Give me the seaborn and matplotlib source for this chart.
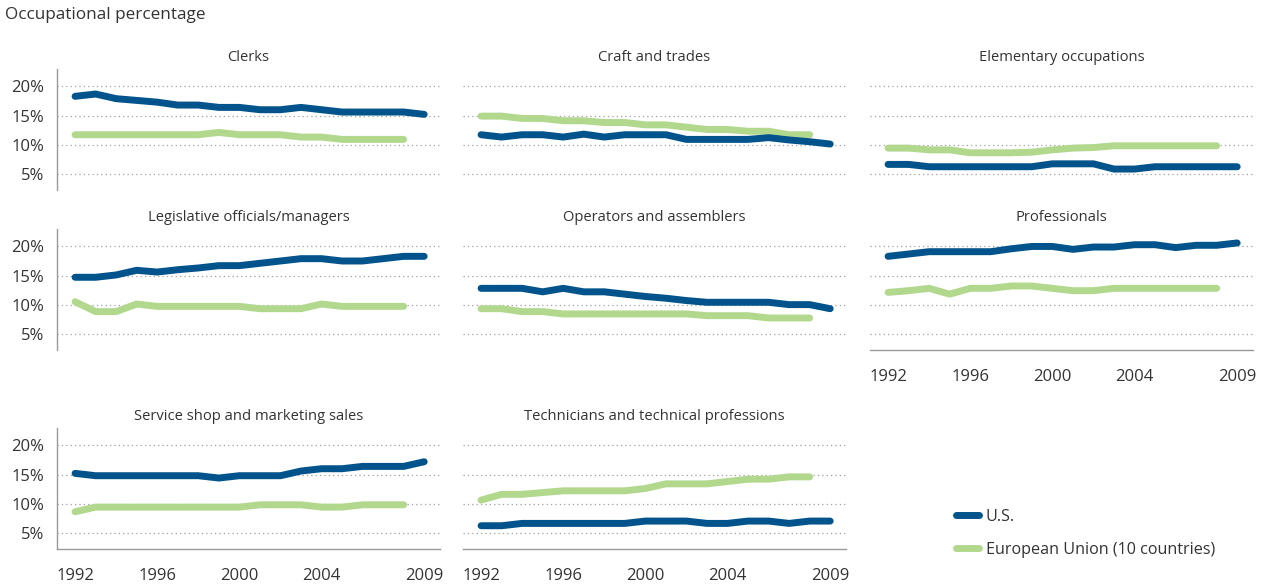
import pandas as pd
import seaborn as sns
import matplotlib.pyplot as plt
from matplotlib.lines import Line2D

# ---- data (percent of employment) ----
years = list(range(1992, 2010))
eu_years = years[:17]          # EU series stops in 2008

titles = ["Clerks", "Craft and trades", "Elementary occupations",
          "Legislative officials/managers", "Operators and assemblers", "Professionals",
          "Service shop and marketing sales", "Technicians and technical professions"]

us_clerks = [18.3, 18.7, 17.9, 17.6, 17.3, 16.8, 16.8, 16.4, 16.4, 16.0, 16.0, 16.4, 16.0, 15.6, 15.6, 15.6, 15.6, 15.2]
eu_clerks = [11.7, 11.7, 11.7, 11.7, 11.7, 11.7, 11.7, 12.1, 11.7, 11.7, 11.7, 11.3, 11.3, 10.9, 10.9, 10.9, 10.9]

us_craft = [11.7, 11.3, 11.7, 11.7, 11.3, 11.8, 11.3, 11.7, 11.7, 11.7, 10.9, 10.9, 10.9, 10.9, 11.2, 10.8, 10.5, 10.1]
eu_craft = [14.9, 14.9, 14.5, 14.5, 14.1, 14.1, 13.8, 13.8, 13.4, 13.4, 13.0, 12.6, 12.6, 12.3, 12.3, 11.7, 11.7]

us_elem = [6.6, 6.6, 6.2, 6.2, 6.2, 6.2, 6.2, 6.2, 6.7, 6.7, 6.7, 5.8, 5.8, 6.2, 6.2, 6.2, 6.2, 6.2]
eu_elem = [9.4, 9.4, 9.1, 9.1, 8.6, 8.6, 8.6, 8.7, 9.1, 9.4, 9.5, 9.8, 9.8, 9.8, 9.8, 9.8, 9.8]

us_legis = [14.7, 14.7, 15.1, 15.9, 15.6, 16.0, 16.3, 16.7, 16.7, 17.1, 17.5, 17.9, 17.9, 17.5, 17.5, 17.9, 18.3, 18.3]
eu_legis = [10.5, 8.8, 8.8, 10.1, 9.7, 9.7, 9.7, 9.7, 9.7, 9.3, 9.3, 9.3, 10.1, 9.7, 9.7, 9.7, 9.7]

us_oper = [12.8, 12.8, 12.8, 12.2, 12.8, 12.2, 12.2, 11.8, 11.4, 11.1, 10.7, 10.4, 10.4, 10.4, 10.4, 10.0, 10.0, 9.3]
eu_oper = [9.3, 9.3, 8.8, 8.8, 8.4, 8.4, 8.4, 8.4, 8.4, 8.4, 8.4, 8.1, 8.1, 8.1, 7.7, 7.7, 7.7]

us_prof = [18.3, 18.7, 19.1, 19.1, 19.1, 19.1, 19.6, 20.0, 20.0, 19.5, 19.9, 19.9, 20.3, 20.3, 19.8, 20.2, 20.2, 20.6]
eu_prof = [12.1, 12.4, 12.8, 11.8, 12.8, 12.8, 13.2, 13.2, 12.8, 12.4, 12.4, 12.8, 12.8, 12.8, 12.8, 12.8, 12.8]

us_serv = [15.2, 14.8, 14.8, 14.8, 14.8, 14.8, 14.8, 14.4, 14.8, 14.8, 14.8, 15.6, 16.0, 16.0, 16.4, 16.4, 16.4, 17.2]
eu_serv = [8.6, 9.4, 9.4, 9.4, 9.4, 9.4, 9.4, 9.4, 9.4, 9.8, 9.8, 9.8, 9.4, 9.4, 9.8, 9.8, 9.8]

us_tech = [6.2, 6.2, 6.6, 6.6, 6.6, 6.6, 6.6, 6.6, 7.0, 7.0, 7.0, 6.6, 6.6, 7.0, 7.0, 6.6, 7.0, 7.0]
eu_tech = [10.6, 11.6, 11.6, 11.9, 12.2, 12.2, 12.2, 12.2, 12.6, 13.4, 13.4, 13.4, 13.8, 14.2, 14.2, 14.6, 14.6]

us_all = [us_clerks, us_craft, us_elem, us_legis, us_oper, us_prof, us_serv, us_tech]
eu_all = [eu_clerks, eu_craft, eu_elem, eu_legis, eu_oper, eu_prof, eu_serv, eu_tech]

series_names = ["U.S.", "European Union (10 countries)"]
yticks = [5, 10, 15, 20]
ytick_labels = ["5%", "10%", "15%", "20%"]
xticks = [1992, 1996, 2000, 2004, 2009]

blue = "#00538b"
green = "#b2d88e"
txt = "#333333"
grey = "#9a9a9a"

sns.set_style("white")
plt.rcParams['font.family'] = ['Open Sans', 'DejaVu Sans']
plt.rcParams['text.color'] = txt

W, H = 1267, 588
fig = plt.figure(figsize=(W / 100, H / 100), dpi=100)

col_left = [57, 463, 870]
row_top = [69, 229, 428]
ax_w, ax_h = 383, 121

for i, title in enumerate(titles):
    r, c = divmod(i, 3)
    ax = fig.add_axes([col_left[c] / W, 1 - (row_top[r] + ax_h) / H, ax_w / W, ax_h / H])
    df = pd.DataFrame({
        "Year": years + eu_years,
        "Share": us_all[i] + eu_all[i],
        "Region": [series_names[0]] * len(years) + [series_names[1]] * len(eu_years),
    })
    sns.lineplot(data=df, x="Year", y="Share", hue="Region",
                 palette={series_names[0]: blue, series_names[1]: green},
                 hue_order=series_names[::-1], linewidth=5,
                 solid_capstyle="round", legend=False, ax=ax)
    ax.set_xlim(1991.12, 2009.77)
    ax.set_ylim(2.2, 23.0)
    ax.set_xlabel("")
    ax.set_ylabel("")
    ax.set_title(title, fontsize=10.6, color=txt, pad=6)
    for y in yticks:
        ax.axhline(y, color="#a0a0a0", linewidth=0.9, linestyle=(0, (1, 2.5)), zorder=0)

    for s in ["top", "right"]:
        ax.spines[s].set_visible(False)
    for s in ["left", "bottom"]:
        ax.spines[s].set_color(grey)
        ax.spines[s].set_linewidth(1)

    if c == 0:
        ax.set_yticks(yticks)
        ax.set_yticklabels(ytick_labels)
        ax.tick_params(axis="y", length=0, pad=9, labelsize=12, labelcolor=txt)
    else:
        ax.spines["left"].set_visible(False)
        ax.set_yticks([])

    if i in (5, 6, 7):
        ax.set_xticks(xticks)
        ax.set_xticklabels([str(x) for x in xticks])
        ax.tick_params(axis="x", length=9, width=1, color="#b0b0b0", direction="out",
                       pad=5, labelsize=12, labelcolor=txt)
    else:
        ax.spines["bottom"].set_visible(False)
        ax.set_xticks([])

fig.text(5 / W, 1 - 15 / H, "Occupational percentage", fontsize=12.3, va="center", ha="left")

handles = [Line2D([], [], color=blue, linewidth=5, solid_capstyle="round"),
           Line2D([], [], color=green, linewidth=5, solid_capstyle="round")]
fig.legend(handles, series_names, loc="upper left", bbox_to_anchor=(956 / W, 1 - 509 / H),
           frameon=False, fontsize=11.6, handlelength=1.4, handletextpad=0.45,
           labelspacing=1.05, borderpad=0, borderaxespad=0)

fig.savefig("out.png", dpi=100)
